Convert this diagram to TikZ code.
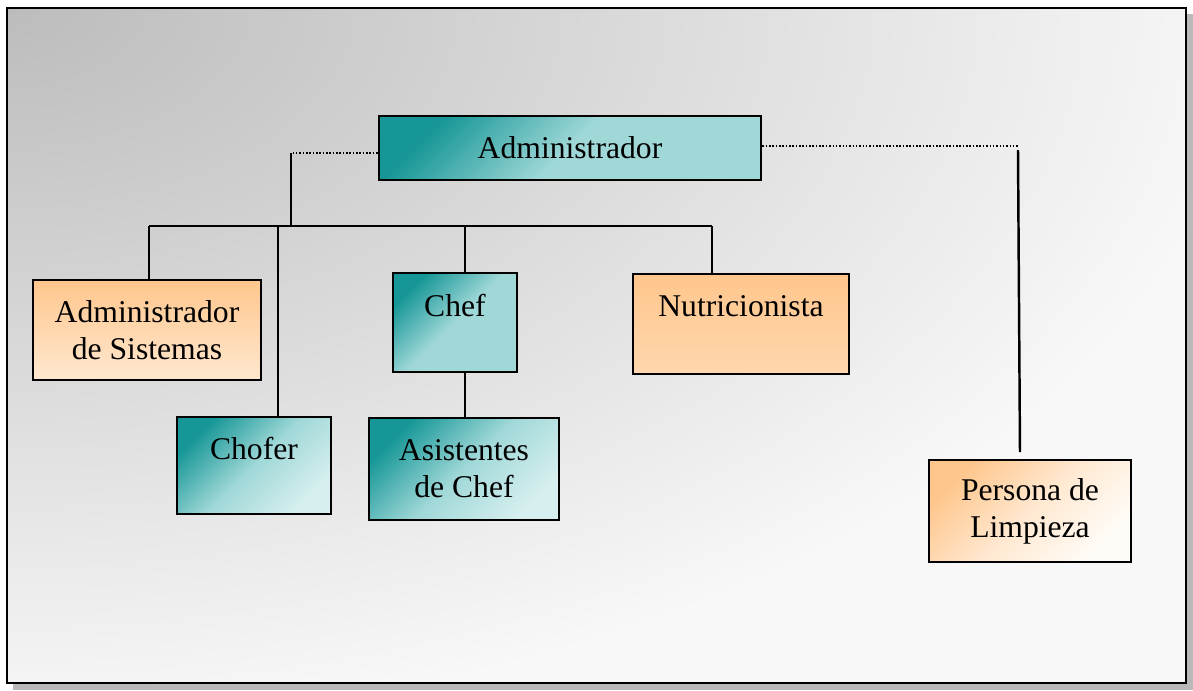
\documentclass[tikz,border=0pt]{standalone}
\usepackage{fontspec}
\setmainfont{Liberation Serif}
\usepackage{tikz}
\usetikzlibrary{positioning}
\definecolor{tealdark}{RGB}{22,150,150}
\definecolor{teallight}{RGB}{160,216,216}
\definecolor{tealpale}{RGB}{216,239,239}
\definecolor{orangedark}{RGB}{255,198,140}
\definecolor{orangelight}{RGB}{255,232,208}
\definecolor{orangepale}{RGB}{255,252,248}
\definecolor{bgdark}{RGB}{188,188,188}
\definecolor{bglight}{RGB}{248,248,248}

\begin{document}
\begin{tikzpicture}[x=0.01cm, y=-0.01cm,
% define styles here
box/.style={rectangle, draw, line width=0.7pt, align=center, inner sep=0pt,
  font=\fontsize{9pt}{10.5pt}\selectfont},
tealbox/.style={box, top color=tealdark, bottom color=#1, middle color=teallight, shading angle=45},
tealbox/.default=teallight,
orangebox/.style={box, top color=orangedark, bottom color=#1},
orangebox/.default=orangelight,
toptext/.style={text depth=0.35cm},
conn/.style={line width=0.7pt},
dotconn/.style={line width=0.5pt, dash pattern=on 0.45pt off 0.5pt}
]
\useasboundingbox (0,0) rectangle (1193,690);

% frame with shadow
\fill[gray!55] (13,14) rectangle (1193,690);
\begin{scope}
\clip (7,8) rectangle (1186,683);
\fill[bglight] (7,8) rectangle (1186,683);
\shade[inner color=bgdark, outer color=bglight] (7,8) ellipse (1250 and 720);
\end{scope}
\draw[line width=0.8pt] (7,8) rectangle (1186,683);

% boxes
\node[tealbox, minimum width=3.82cm, minimum height=0.64cm] (admin) at (570,148) {Administrador};
\node[orangebox, minimum width=2.28cm, minimum height=1cm] (sistemas) at (147,330) {Administrador\\de Sistemas};
\node[tealbox, toptext, minimum width=1.24cm, minimum height=0.99cm] (chef) at (455,322.5) {Chef};
\node[orangebox=orangedark!50!orangelight, toptext, minimum width=2.16cm, minimum height=1cm] (nutri) at (741,324) {Nutricionista};
\node[tealbox=tealpale, toptext, minimum width=1.54cm, minimum height=0.97cm] (chofer) at (254,465.5) {Chofer};
\node[tealbox=tealpale, minimum width=1.9cm, minimum height=1.02cm] (asist) at (464,469) {Asistentes\\de Chef};
\node[orangebox=orangepale, middle color=orangelight, shading angle=45, minimum width=2.02cm, minimum height=1.02cm] (limpieza) at (1030,511) {Persona de\\Limpieza};

% connectors
\coordinate (lj) at (291,153);
\coordinate (busL) at (149,226);
\coordinate (busR) at (712,226);
\coordinate (rj) at (1018,146);
\coordinate (rk) at (1020,452);

\draw[dotconn] (admin.west |- lj) -- (lj);
\draw[conn] (lj) -- (lj |- busL);
\draw[conn] (busL) -- (busR);
\draw[conn] (busL) -- (busL |- sistemas.north);
\draw[conn] ([xshift=0.24cm]chofer.north |- busL) -- ([xshift=0.24cm]chofer.north);
\draw[conn] ([xshift=0.1cm]chef.north |- busL) -- ([xshift=0.1cm]chef.north);
\draw[conn] (busR) -- (busR |- nutri.north);
\draw[conn] ([xshift=0.1cm]chef.south) -- ([xshift=0.1cm]chef.south |- asist.north);

\draw[dotconn] (admin.east |- rj) -- (rj);
\draw[conn] ([yshift=-0.04cm]rj) -- (rk);
\end{tikzpicture}
\end{document}
